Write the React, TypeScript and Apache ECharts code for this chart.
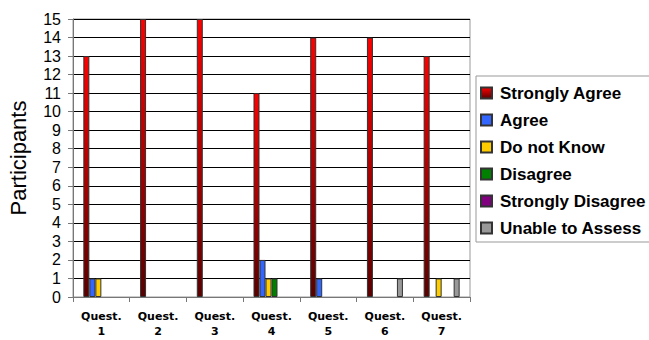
import React, { useEffect, useRef } from "react";
import * as echarts from "echarts";

const categories = ["Quest.\n1", "Quest.\n2", "Quest.\n3", "Quest.\n4", "Quest.\n5", "Quest.\n6", "Quest.\n7"];
const stronglyAgree = [13, 15, 15, 11, 14, 14, 13];
const agree = [1, 0, 0, 2, 1, 0, 0];
const doNotKnow = [1, 0, 0, 1, 0, 0, 1];
const disagree = [0, 0, 0, 1, 0, 0, 0];
const stronglyDisagree = [0, 0, 0, 0, 0, 0, 0];
const unableToAssess = [0, 0, 0, 0, 0, 1, 1];

const seriesDefs = [
  { name: "Strongly Agree", data: stronglyAgree, color: new echarts.graphic.LinearGradient(0, 0, 0, 1, [
    { offset: 0, color: "#ff0000" },
    { offset: 1, color: "#5a0000" },
  ]) },
  { name: "Agree", data: agree, color: "#3366ff" },
  { name: "Do not Know", data: doNotKnow, color: "#ffcc00" },
  { name: "Disagree", data: disagree, color: "#008000" },
  { name: "Strongly Disagree", data: stronglyDisagree, color: "#800080" },
  { name: "Unable to Assess", data: unableToAssess, color: "#999999" },
];

export default function App() {
  const ref = useRef<HTMLDivElement>(null);
  useEffect(() => {
    document.body.style.margin = "0";
    const chart = echarts.init(ref.current!, null, { renderer: "svg" });
    chart.setOption({
      animation: false,
      backgroundColor: "#ffffff",
      grid: {
        left: 73,
        top: 19,
        width: 397,
        height: 278,
        show: true,
        borderColor: "#999999",
        borderWidth: 1,
        backgroundColor: "transparent",
        containLabel: false,
        outerBoundsMode: "none",
      },
      legend: {
        orient: "vertical",
        left: 476,
        top: 76,
        padding: [8, 6, 5, 4],
        itemGap: 9,
        itemWidth: 11,
        itemHeight: 11,
        icon: "rect",
        borderColor: "#999999",
        borderWidth: 1,
        textStyle: {
          fontFamily: "Liberation Sans",
          fontWeight: "bold",
          fontSize: 17,
          color: "#000",
          lineHeight: 18,
          padding: [0, 0, 0, 3],
        },
        data: seriesDefs.map((s) => s.name),
      },
      xAxis: {
        type: "category",
        data: categories,
        axisLine: { lineStyle: { color: "#777", width: 1 } },
        axisTick: { show: true, length: 5, lineStyle: { color: "#777" } },
        axisLabel: {
          fontFamily: "DejaVu Sans",
          fontWeight: "bold",
          fontSize: 11,
          color: "#000",
          margin: 12,
          lineHeight: 15,
        },
      },
      yAxis: {
        type: "value",
        min: 0,
        max: 15,
        interval: 1,
        name: "Participants",
        nameLocation: "middle",
        nameGap: 44,
        nameTextStyle: { fontFamily: "Liberation Sans", fontSize: 22, color: "#000" },
        axisLine: { show: true, lineStyle: { color: "#777" } },
        axisTick: { show: true, length: 5, lineStyle: { color: "#777" } },
        axisLabel: { fontFamily: "Liberation Sans", fontSize: 16, color: "#000", margin: 12 },
        splitLine: { show: true, lineStyle: { color: "#000", width: 1 } },
      },
      series: seriesDefs.map((s) => ({
        type: "bar",
        name: s.name,
        data: s.data.map((v) => (v === 0 ? { value: 0, itemStyle: { borderWidth: 0 } } : v)),
        barWidth: 6,
        barGap: "0%",
        itemStyle: { color: s.color, borderColor: "#333", borderWidth: 1 },
      })),
    });
    return () => chart.dispose();
  }, []);
  return <div ref={ref} style={{ width: 649, height: 340 }} />;
}
